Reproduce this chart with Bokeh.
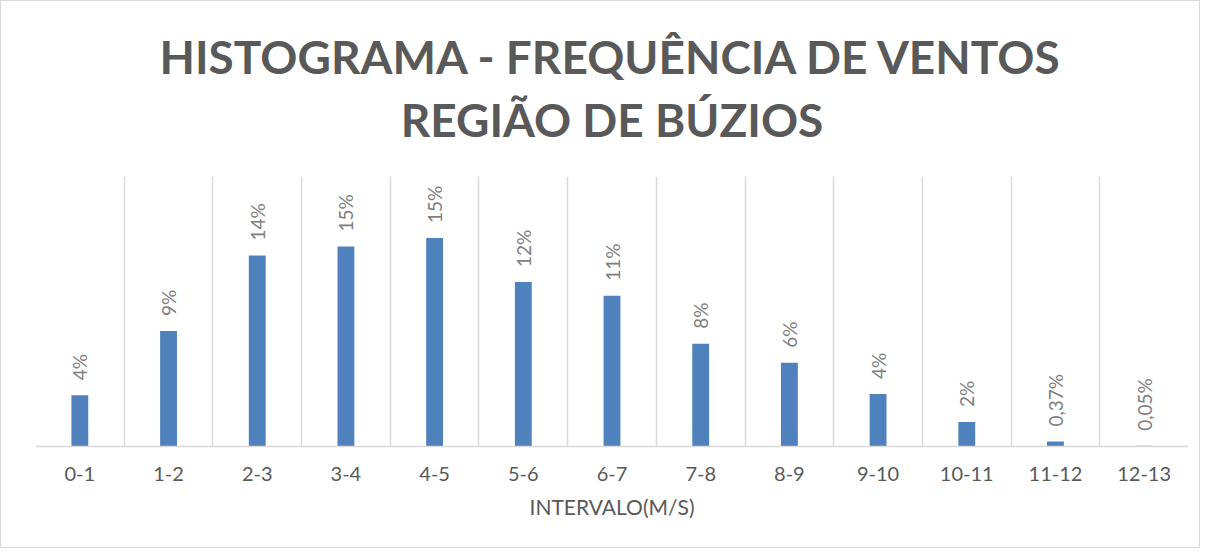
import math
from bokeh.plotting import figure
from bokeh.models import ColumnDataSource, FixedTicker, Range1d, Title
from bokeh.core.properties import value
from bokeh.embed import file_html
from bokeh.resources import INLINE

# ---- data ----
categories = ["0-1", "1-2", "2-3", "3-4", "4-5", "5-6", "6-7",
              "7-8", "8-9", "9-10", "10-11", "11-12", "12-13"]
frequencies = [3.80, 8.55, 14.15, 14.82, 15.45, 12.18, 11.16,
               7.61, 6.21, 3.88, 1.81, 0.37, 0.05]
value_labels = ["4%", "9%", "14%", "15%", "15%", "12%", "11%",
                "8%", "6%", "4%", "2%", "0,37%", "0,05%"]
title_lines = ["HISTOGRAMA - FREQUÊNCIA DE VENTOS", "REGIÃO DE BÚZIOS"]
x_title = "INTERVALO(M/S)"

FONT = "Lato"
TXT = "#595959"

n = len(categories)
xs = [i + 0.5 for i in range(n)]
src = ColumnDataSource(dict(x=xs, v=frequencies, lab=value_labels, cat=categories))

p = figure(width=1200, height=548, output_backend="svg", toolbar_location=None,
           x_range=Range1d(0, n), y_range=Range1d(0, 20), title=None,
           min_border_left=34, min_border_right=13, min_border_top=175,
           min_border_bottom=103)
p.styles = {"border": "1px solid #d9d9d9"}
p.outline_line_color = None
p.background_fill_color = "white"
p.border_fill_color = "white"

p.vbar(x="x", top="v", width=0.19, source=src, fill_color="#4F81BD",
       line_color=None)
p.text(x="x", y="v", text="lab", source=src, angle=math.pi / 2,
       text_align="left", text_baseline="middle", y_offset=-15,
       text_font=value(FONT), text_font_size="19px", text_color="#7f7f7f")

# grid: vertical separators between categories
p.xgrid.ticker = FixedTicker(ticks=list(range(n + 1)))
p.xgrid.grid_line_color = "#d9d9d9"
p.xgrid.grid_line_width = 1.5
p.ygrid.grid_line_color = None
p.yaxis.visible = False

ax = p.xaxis[0]
ax.ticker = FixedTicker(ticks=xs)
ax.major_label_overrides = {x: c for x, c in zip(xs, categories)}
ax.axis_line_color = "#d9d9d9"
ax.axis_line_width = 1.5
ax.major_tick_line_color = None
ax.minor_tick_line_color = None
ax.major_label_standoff = 14
ax.major_label_text_font = FONT
ax.major_label_text_font_size = "20px"
ax.major_label_text_color = TXT
ax.axis_label = x_title
ax.axis_label_text_font = FONT
ax.axis_label_text_font_size = "21px"
ax.axis_label_text_font_style = "normal"
ax.axis_label_text_color = TXT
ax.axis_label_standoff = 10

t2 = Title(text=title_lines[1], align="center", text_font=FONT,
           text_font_size="46px", text_font_style="bold", text_color=TXT,
           standoff=60)
t1 = Title(text=title_lines[0], align="center", text_font=FONT,
           text_font_size="46px", text_font_style="bold", text_color=TXT,
           standoff=-49)
p.add_layout(t2, "above")
p.add_layout(t1, "above")

open("out.html", "w").write(file_html(p, INLINE))
